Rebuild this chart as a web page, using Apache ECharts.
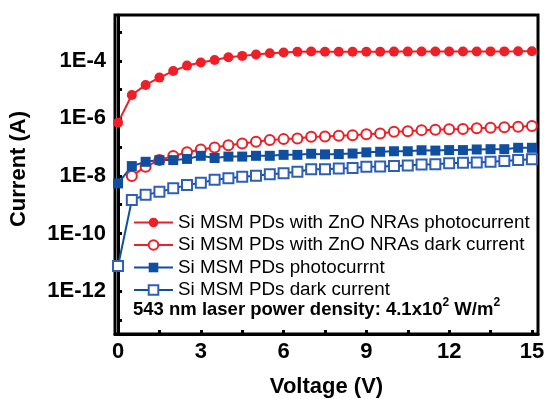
<!DOCTYPE html>
<html><head><meta charset="utf-8">
<script src="https://cdn.jsdelivr.net/npm/echarts@6/dist/echarts.min.js"></script>
<style>html,body{margin:0;padding:0;background:#fff}#c{width:545px;height:399px}</style>
</head><body><div id="c"></div>
<script>
// Voltage (V)
const voltage = [0,0.5,1,1.5,2,2.5,3,3.5,4,4.5,5,5.5,6,6.5,7,7.5,8,8.5,9,9.5,10,10.5,11,11.5,12,12.5,13,13.5,14,14.5,15];
// Current (A)
const znoPhoto = [7.1e-7,6.5e-6,1.45e-5,2.6e-5,4.4e-5,6.8e-5,8.7e-5,1.07e-4,1.32e-4,1.48e-4,1.66e-4,1.82e-4,1.95e-4,2.04e-4,2.09e-4,2.05e-4,2.05e-4,2.06e-4,2.07e-4,2.07e-4,2.08e-4,2.08e-4,2.09e-4,2.09e-4,2.1e-4,2.1e-4,2.11e-4,2.12e-4,2.12e-4,2.13e-4,2.15e-4];
const znoDark = [null,1.0e-8,2.1e-8,3.55e-8,4.9e-8,6.6e-8,8.3e-8,9.8e-8,1.17e-7,1.35e-7,1.55e-7,1.78e-7,1.9e-7,2.0e-7,2.3e-7,2.35e-7,2.5e-7,2.6e-7,2.8e-7,3.0e-7,3.4e-7,3.6e-7,3.9e-7,4.0e-7,4.2e-7,4.3e-7,4.5e-7,4.7e-7,4.9e-7,5.1e-7,5.4e-7];
const siPhoto = [5.5e-9,2.2e-8,3.1e-8,3.55e-8,3.55e-8,3.9e-8,5.0e-8,4.2e-8,4.7e-8,4.7e-8,5.0e-8,5.0e-8,5.4e-8,5.4e-8,5.9e-8,5.6e-8,5.75e-8,6.0e-8,6.6e-8,6.9e-8,7.2e-8,7.2e-8,7.8e-8,7.6e-8,7.9e-8,7.9e-8,8.3e-8,8.5e-8,8.5e-8,9.5e-8,9.5e-8];
const siDark = [7.4e-12,1.45e-9,2.2e-9,2.8e-9,3.7e-9,4.8e-9,5.75e-9,7.4e-9,8.3e-9,9.3e-9,1.02e-8,1.15e-8,1.23e-8,1.41e-8,1.7e-8,1.72e-8,1.82e-8,1.9e-8,2.1e-8,2.12e-8,2.2e-8,2.3e-8,2.5e-8,2.57e-8,2.75e-8,2.9e-8,2.95e-8,3.1e-8,3.3e-8,3.55e-8,3.8e-8];
const seriesNames = ['Si MSM PDs with ZnO NRAs photocurrent','Si MSM PDs with ZnO NRAs dark current','Si MSM PDs photocurrnt','Si MSM PDs dark current'];
// Axis ticks (decade exponents / volts)
const yLabelExps = [-12,-10,-8,-6,-4];
const yTickExps = [-13,-12,-11,-10,-9,-8,-7,-6,-5,-4,-3];
const xLabels = [0,3,6,9,12,15];
const xTicks = [0,1.5,3,4.5,6,7.5,9,10.5,12,13.5,15];
const noteMain = '543 nm laser power density: 4.1x10';
const noteUnit = ' W/m';

const FONT = 'Liberation Sans';
const RED = '#ee1f26', BLUE = '#104fa0';
function toData(arr){ return voltage.map((v,i)=> arr[i]==null ? [v,'-'] : [v, Math.log10(arr[i])]); }

const chart = echarts.init(document.getElementById('c'));
chart.setOption({
  animation:false,
  backgroundColor:'#fff',
  textStyle:{fontFamily:FONT},
  grid:{left:115, right:7, top:15, bottom:65, show:true, borderColor:'#000', borderWidth:3,
    containLabel:false, outerBoundsMode:'none'},
  title:{text:'{m|'+noteMain+'}{s|2}{m|'+noteUnit+'}{s|2}', left:128, top:292,
    textStyle:{fontFamily:FONT, fontSize:18.5, fontWeight:'bold', color:'#000',
      rich:{m:{fontFamily:FONT, fontSize:18.5, fontWeight:'bold', color:'#000', verticalAlign:'bottom', lineHeight:22},
            s:{fontFamily:FONT, fontSize:12, fontWeight:'bold', color:'#000', verticalAlign:'top', lineHeight:22, padding:[0,0,7,0]}}}},
  legend:{orient:'vertical', left:128, top:208, itemWidth:39, itemHeight:12, itemGap:3.5,
    textStyle:{fontFamily:FONT, fontSize:18.8, color:'#000'}, data:seriesNames},
  xAxis:{type:'value', min:-0.11, max:15.22, name:'Voltage (V)', nameLocation:'middle', nameGap:42,
    nameTextStyle:{fontFamily:FONT, fontSize:22, fontWeight:'bold', color:'#000'},
    axisLine:{lineStyle:{color:'#000', width:3}},
    axisTick:{inside:true, length:4, lineStyle:{width:3, color:'#000'}, customValues:xTicks},
    axisLabel:{customValues:xLabels, margin:7, fontFamily:FONT, fontSize:22, fontWeight:'bold', color:'#000'},
    splitLine:{show:false}},
  yAxis:{type:'value', min:-13.49, max:-2.41, name:'Current (A)', nameLocation:'middle', nameGap:85,
    nameTextStyle:{fontFamily:FONT, fontSize:22, fontWeight:'bold', color:'#000', padding:[0,0,0,11]},
    axisLine:{lineStyle:{color:'#000', width:3}},
    axisTick:{inside:true, length:4, lineStyle:{width:3, color:'#000'}, customValues:yTickExps},
    axisLabel:{customValues:yLabelExps, margin:9, fontFamily:FONT, fontSize:22, fontWeight:'bold', color:'#000',
      formatter:v=>'1E'+v},
    splitLine:{show:false}},
  series:[
    {name:seriesNames[0], type:'line', data:toData(znoPhoto), symbol:'circle', symbolSize:10,
      itemStyle:{color:RED}, lineStyle:{color:RED, width:2}},
    {name:seriesNames[1], type:'line', data:toData(znoDark), symbol:'emptyCircle', symbolSize:10, connectNulls:false,
      itemStyle:{color:RED, borderWidth:1}, lineStyle:{color:RED, width:2}},
    {name:seriesNames[2], type:'line', data:toData(siPhoto), symbol:'rect', symbolSize:10,
      itemStyle:{color:BLUE}, lineStyle:{color:BLUE, width:2}},
    {name:seriesNames[3], type:'line', data:toData(siDark), symbol:'emptyRect', symbolSize:10,
      itemStyle:{color:'#2f5fb5', borderWidth:1}, lineStyle:{color:BLUE, width:2}}
  ]
});
</script></body></html>
